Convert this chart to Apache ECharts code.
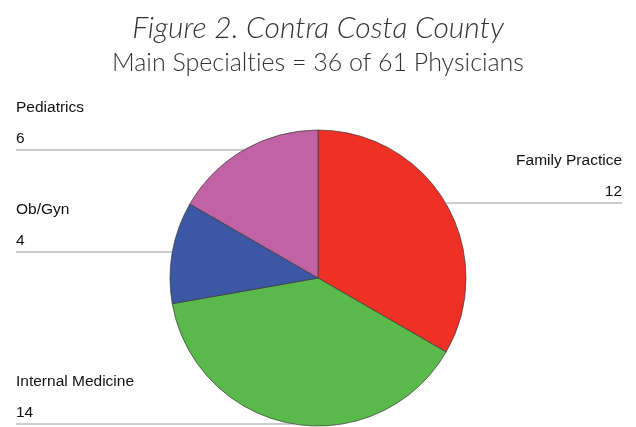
<!DOCTYPE html>
<html>
<head>
<meta charset="utf-8">
<script src="https://cdn.jsdelivr.net/npm/echarts@6/dist/echarts.min.js"></script>
<style>
  html, body { margin: 0; padding: 0; background: #fff; }
  #chart { width: 636px; height: 427px; }
</style>
</head>
<body>
<div id="chart"></div>
<script>
// Main specialties, clockwise from 12 o'clock
const specialties = ['Family Practice', 'Internal Medicine', 'Ob/Gyn', 'Pediatrics'];
const physicians = [12, 14, 4, 6];
const sliceColors = ['#ee3124', '#59b94a', '#3c57a4', '#c062a4'];

// Pie geometry and callout rows (leader line height, side of the chart)
const pieCenter = [318, 278];
const pieRadius = 148;
const callouts = [
  { lineY: 203, side: 'right' },
  { lineY: 424, side: 'left' },
  { lineY: 252, side: 'left' },
  { lineY: 150, side: 'left' }
];
const leftEdge = 16;
const rightEdge = 622;
const labelFont = 'Liberation Sans, Arial, sans-serif';

const chart = echarts.init(document.getElementById('chart'));

chart.setOption({
  backgroundColor: '#ffffff',
  animation: false,
  title: [
    {
      text: 'Figure 2. Contra Costa County',
      left: 'center',
      top: 5,
      textStyle: {
        fontFamily: 'Lato',
        fontStyle: 'italic',
        fontWeight: 300,
        fontSize: 30,
        lineHeight: 36,
        color: '#333333'
      }
    },
    {
      // zero-width non-joiner keeps "ti" from being drawn as a ligature
      text: 'Main Specialt\u200Cies = 36 of 61 Physicians',
      left: 'center',
      top: 43,
      textStyle: {
        fontFamily: 'Lato',
        fontWeight: 300,
        fontSize: 25,
        lineHeight: 30,
        color: '#333333'
      }
    }
  ],
  series: [{
    type: 'pie',
    center: pieCenter,
    radius: pieRadius,
    startAngle: 90,
    clockwise: true,
    avoidLabelOverlap: false,
    data: specialties.map((name, i) => ({
      name: name,
      value: physicians[i],
      itemStyle: { color: sliceColors[i] }
    })),
    itemStyle: { borderColor: '#3a3a3a', borderWidth: 0.7 },
    emphasis: { disabled: true },
    label: {
      show: true,
      formatter: '{n|{b}}\n{g|}\n{v|{c}}',
      fontFamily: labelFont,
      fontSize: 15.5,
      color: '#111111',
      rich: {
        n: { fontSize: 15.5, lineHeight: 20, color: '#111111', fontFamily: labelFont },
        g: { fontSize: 6, lineHeight: 11 },
        v: { fontSize: 15.5, lineHeight: 20, color: '#111111', fontFamily: labelFont }
      }
    },
    labelLine: {
      show: true,
      lineStyle: { color: '#9a9a9a', width: 1.2 }
    },
    labelLayout: function (params) {
      const c = callouts[params.dataIndex];
      const dy = c.lineY - pieCenter[1];
      const dx = Math.sqrt(Math.max(pieRadius * pieRadius - dy * dy, 0));
      if (c.side === 'left') {
        const edgeX = pieCenter[0] - dx;
        return {
          x: leftEdge,
          y: c.lineY - 1,
          align: 'left',
          verticalAlign: 'bottom',
          labelLinePoints: [[edgeX, c.lineY], [edgeX, c.lineY], [leftEdge, c.lineY]]
        };
      }
      const edgeX = pieCenter[0] + dx;
      return {
        x: rightEdge,
        y: c.lineY - 1,
        align: 'right',
        verticalAlign: 'bottom',
        labelLinePoints: [[edgeX, c.lineY], [edgeX, c.lineY], [rightEdge, c.lineY]]
      };
    }
  }]
});
</script>
</body>
</html>
